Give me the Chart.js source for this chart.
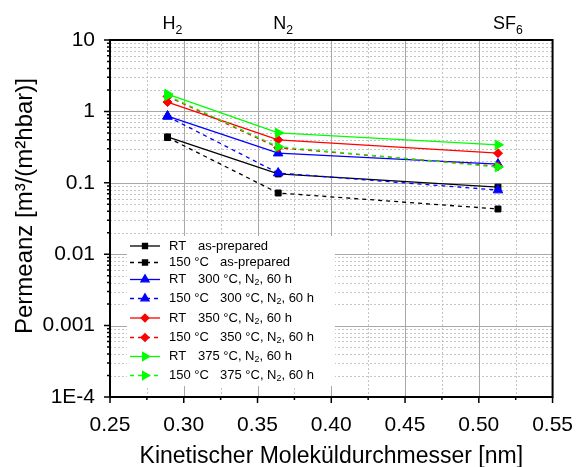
<!DOCTYPE html>
<html>
<head>
<meta charset="utf-8">
<script src="https://cdn.jsdelivr.net/npm/chart.js@4.4.0/dist/chart.umd.min.js"></script>
<style>
  html, body { margin: 0; padding: 0; background: #fff; }
  #wrap { width: 581px; height: 467px; }
</style>
</head>
<body>
<div id="wrap"><canvas id="chart" width="581" height="467"></canvas></div>
<script>
// kinetic diameters (nm) and gas names on the top axis
const diameters = [0.289, 0.364, 0.513];
const gasNames = ['H_2', 'N_2', 'SF_6'];

// permeance values, m3/(m2 h bar)
const rtAsPrepared   = [0.44, 0.133, 0.087];
const c150AsPrepared = [0.43, 0.072, 0.043];
const rt300          = [0.86, 0.26, 0.183];
const c150300        = [0.85, 0.137, 0.079];
const rt350          = [1.35, 0.40, 0.26];
const c150350        = [1.62, 0.31, 0.17];
const rt375          = [1.75, 0.50, 0.34];
const c150375        = [1.66, 0.32, 0.166];

const xTicks = [0.25, 0.30, 0.35, 0.40, 0.45, 0.50, 0.55];
const xTickLabels = ['0.25', '0.30', '0.35', '0.40', '0.45', '0.50', '0.55'];
const yTicks = [1e-4, 1e-3, 1e-2, 1e-1, 1, 10];
const yTickLabels = ['1E-4', '0.001', '0.01', '0.1', '1', '10'];

const legendPrefix = ['RT', '150 °C', 'RT', '150 °C', 'RT', '150 °C', 'RT', '150 °C'];
const legendDesc = ['as-prepared', 'as-prepared',
  '300 °C, N_2, 60 h', '300 °C, N_2, 60 h',
  '350 °C, N_2, 60 h', '350 °C, N_2, 60 h',
  '375 °C, N_2, 60 h', '375 °C, N_2, 60 h'];

const series = [rtAsPrepared, c150AsPrepared, rt300, c150300, rt350, c150350, rt375, c150375];

const FONT = "'Liberation Sans', Arial, sans-serif";
const colors = ['#000000', '#000000', '#0000ff', '#0000ff', '#ff0000', '#ff0000', '#00ff00', '#00ff00'];
const markers = [
  { style: 'rect', radius: 4.2, rotation: 0 },
  { style: 'triangle', radius: 5.5, rotation: 0 },
  { style: 'rectRot', radius: 4.5, rotation: 0 },
  { style: 'triangle', radius: 5.5, rotation: 90 }
];

const datasets = series.map((vals, i) => {
  const m = markers[Math.floor(i / 2)];
  return {
    label: legendPrefix[i] + ' ' + legendDesc[i],
    data: vals.map((v, j) => ({ x: diameters[j], y: v })),
    borderColor: colors[i],
    backgroundColor: colors[i],
    borderWidth: 1.3,
    borderDash: i % 2 ? [4, 4] : [],
    pointStyle: m.style,
    pointRadius: m.radius,
    pointRotation: m.rotation,
    pointBorderWidth: 1,
    tension: 0,
    fill: false,
    order: 20 - i
  };
});

// text with "_n" subscripts
function drawRich(ctx, str, x, y, size) {
  const parts = str.split(/_(\d)/);
  let cx = x;
  parts.forEach((p, k) => {
    const sub = k % 2 === 1;
    ctx.font = (sub ? size * 0.68 : size) + 'px ' + FONT;
    ctx.fillText(p, cx, sub ? y + size * 0.25 : y);
    cx += ctx.measureText(p).width;
  });
}

const originPlugin = {
  id: 'origin',
  beforeDatasetsDraw(chart) {
    const { ctx, chartArea: a, scales: { x, y } } = chart;
    ctx.save();
    ctx.lineWidth = 1;
    // minor dotted grid
    ctx.strokeStyle = '#c4c4c4';
    ctx.setLineDash([2, 2]);
    ctx.beginPath();
    for (let v = 0.275; v < 0.55; v += 0.05) {
      const px = Math.round(x.getPixelForValue(v)) + 0.5;
      ctx.moveTo(px, a.top); ctx.lineTo(px, a.bottom);
    }
    for (let d = -4; d < 1; d++) {
      for (let m = 2; m <= 9; m++) {
        const py = Math.round(y.getPixelForValue(m * Math.pow(10, d))) + 0.5;
        ctx.moveTo(a.left, py); ctx.lineTo(a.right, py);
      }
    }
    ctx.stroke();
    // major solid grid
    ctx.setLineDash([]);
    ctx.strokeStyle = '#a8a8a8';
    ctx.beginPath();
    xTicks.slice(1, -1).forEach(v => {
      const px = Math.round(x.getPixelForValue(v)) + 0.5;
      ctx.moveTo(px, a.top); ctx.lineTo(px, a.bottom);
    });
    yTicks.slice(1, -1).forEach(v => {
      const py = Math.round(y.getPixelForValue(v)) + 0.5;
      ctx.moveTo(a.left, py); ctx.lineTo(a.right, py);
    });
    ctx.stroke();
    ctx.restore();
  },
  afterDraw(chart) {
    const { ctx, chartArea: a, scales: { x, y } } = chart;
    ctx.save();
    // legend box
    const lx = 127, ly = 236;
    ctx.fillStyle = '#fff';
    ctx.fillRect(lx, ly, 208, 150);
    const rowY = [246, 262.5, 279.5, 298.5, 318, 337.5, 356.5, 375.5];
    chart.data.datasets.forEach((ds, i) => {
      const yy = rowY[i];
      ctx.strokeStyle = ds.borderColor;
      ctx.fillStyle = ds.borderColor;
      ctx.lineWidth = ds.borderWidth;
      ctx.setLineDash(ds.borderDash);
      ctx.beginPath();
      ctx.moveTo(130, yy); ctx.lineTo(160, yy);
      ctx.stroke();
      ctx.setLineDash([]);
      Chart.helpers.drawPoint(ctx, {
        pointStyle: ds.pointStyle, radius: ds.pointRadius * 0.85,
        rotation: ds.pointRotation, borderWidth: 1
      }, 145, yy);
      ctx.fillStyle = '#000';
      ctx.textBaseline = 'middle';
      ctx.textAlign = 'left';
      drawRich(ctx, legendPrefix[i], 169, yy, 13);
      drawRich(ctx, legendDesc[i], i % 2 ? 220 : 198, yy, 13);
    });

    // frame
    ctx.strokeStyle = '#000';
    ctx.lineWidth = 2;
    ctx.strokeRect(a.left, a.top, a.right - a.left, a.bottom - a.top);

    // tick marks
    ctx.lineWidth = 1.5;
    ctx.beginPath();
    xTicks.forEach(v => {
      const px = x.getPixelForValue(v);
      ctx.moveTo(px, a.bottom); ctx.lineTo(px, a.bottom + 6);
    });
    for (let v = 0.275; v < 0.55; v += 0.05) {
      const px = x.getPixelForValue(v);
      ctx.moveTo(px, a.bottom); ctx.lineTo(px, a.bottom + 3);
    }
    yTicks.forEach(v => {
      const py = y.getPixelForValue(v);
      ctx.moveTo(a.left - 6, py); ctx.lineTo(a.left, py);
    });
    for (let d = -4; d < 1; d++) {
      for (let m = 2; m <= 9; m++) {
        const py = y.getPixelForValue(m * Math.pow(10, d));
        ctx.moveTo(a.left - 3, py); ctx.lineTo(a.left, py);
      }
    }
    ctx.stroke();

    // top axis gas labels
    ctx.fillStyle = '#000';
    ctx.textBaseline = 'alphabetic';
    ctx.textAlign = 'left';
    gasNames.forEach((g, i) => {
      drawRich(ctx, g, x.getPixelForValue(diameters[i]) - 5, 29, 18);
    });

    // axis titles
    ctx.textAlign = 'center';
    ctx.font = '23px ' + FONT;
    ctx.fillText('Kinetischer Moleküldurchmesser [nm]', (a.left + a.right) / 2, 463);
    ctx.translate(32, 206);
    ctx.rotate(-Math.PI / 2);
    ctx.font = '24px ' + FONT;
    ctx.fillText('Permeanz [m³/(m²hbar)]', 0, 0);
    ctx.restore();
  }
};

new Chart(document.getElementById('chart'), {
  type: 'line',
  data: { datasets: datasets },
  options: {
    responsive: false,
    animation: false,
    layout: { padding: { top: 40, right: 28, left: 0, bottom: 0 } },
    plugins: { legend: { display: false }, tooltip: { enabled: false } },
    scales: {
      x: {
        type: 'linear',
        min: 0.25,
        max: 0.55,
        afterBuildTicks: s => { s.ticks = xTicks.map(v => ({ value: v })); },
        afterFit: s => { s.height = 70; },
        ticks: {
          callback: (v, i) => xTickLabels[i],
          font: { family: FONT, size: 21 },
          color: '#000',
          padding: 8,
          maxRotation: 0,
          autoSkip: false
        },
        grid: { display: false },
        border: { display: false }
      },
      y: {
        type: 'logarithmic',
        min: 1e-4,
        max: 10,
        afterBuildTicks: s => { s.ticks = yTicks.map(v => ({ value: v })); },
        afterFit: s => { s.width = 110; },
        ticks: {
          callback: (v, i) => yTickLabels[i],
          font: { family: FONT, size: 21 },
          color: '#000',
          padding: 7,
          autoSkip: false
        },
        grid: { display: false },
        border: { display: false }
      }
    }
  },
  plugins: [originPlugin]
});
</script>
</body>
</html>
